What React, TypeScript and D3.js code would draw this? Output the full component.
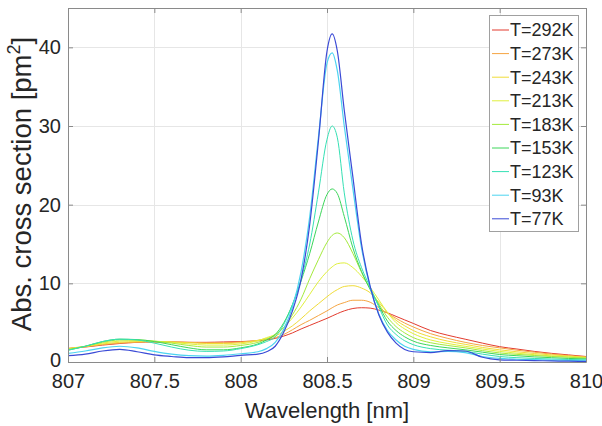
import { useEffect, useRef } from 'react';
import * as d3 from 'd3';

// wavelength grid [nm]
const wavelengths = [
  807.0, 807.1, 807.2, 807.3, 807.4, 807.5, 807.6, 807.7, 807.8, 807.9,
  808.0, 808.1, 808.15, 808.2, 808.25, 808.3, 808.35, 808.4, 808.45, 808.5,
  808.53, 808.56, 808.6, 808.65, 808.7, 808.75, 808.8, 808.85, 808.9, 808.95,
  809.0, 809.1, 809.2, 809.3, 809.4, 809.5, 809.6, 809.7, 809.8, 809.9, 810.0,
];

// absorption cross section [pm^2] per temperature
const t292 = [
  1.7, 1.9, 2.15, 2.35, 2.5, 2.55, 2.55, 2.5, 2.5, 2.55,
  2.6, 2.7, 2.8, 3.0, 3.3, 3.7, 4.2, 4.65, 5.1, 5.55,
  5.85, 6.15, 6.5, 6.8, 6.9, 6.85, 6.6, 6.25, 5.8, 5.35,
  4.9, 4.0, 3.4, 2.9, 2.4, 1.95, 1.65, 1.35, 1.1, 0.9, 0.7,
];
const t273 = [
  1.75, 1.95, 2.2, 2.4, 2.5, 2.55, 2.55, 2.5, 2.45, 2.45,
  2.55, 2.75, 2.9, 3.1, 3.5, 4.1, 4.75, 5.3, 5.9, 6.5,
  6.9, 7.25, 7.55, 7.85, 7.85, 7.6, 6.9, 6.2, 5.55, 4.95,
  4.45, 3.6, 3.0, 2.5, 2.1, 1.8, 1.5, 1.25, 1.0, 0.82, 0.65,
];
const t243 = [
  1.7, 1.95, 2.3, 2.5, 2.6, 2.6, 2.55, 2.45, 2.35, 2.35,
  2.45, 2.75, 3.0, 3.3, 3.9, 4.6, 5.5, 6.5, 7.4, 8.3,
  8.8, 9.2, 9.6, 9.7, 9.4, 8.8, 7.6, 6.3, 5.3, 4.6,
  4.0, 3.2, 2.65, 2.25, 1.85, 1.55, 1.3, 1.08, 0.9, 0.75, 0.6,
];
const t213 = [
  1.65, 2.0, 2.4, 2.65, 2.7, 2.65, 2.5, 2.3, 2.15, 2.15,
  2.3, 2.7, 3.1, 3.5, 4.4, 5.6, 7.0, 8.6, 10.2, 11.5,
  12.1, 12.5, 12.6, 12.0, 10.9, 9.5, 7.9, 6.3, 5.0, 4.2,
  3.6, 2.8, 2.35, 2.0, 1.65, 1.35, 1.12, 0.93, 0.78, 0.65, 0.55,
];
const t183 = [
  1.6, 2.0, 2.5, 2.8, 2.8, 2.65, 2.4, 2.1, 1.9, 1.9,
  2.1, 2.5, 2.9, 3.45, 4.4, 6.0, 8.0, 10.6, 13.0, 15.2,
  16.1, 16.4, 15.8, 13.8, 11.4, 9.3, 7.4, 5.7, 4.5, 3.7,
  3.1, 2.45, 2.1, 1.8, 1.45, 1.15, 0.97, 0.83, 0.7, 0.6, 0.5,
];
const t153 = [
  1.5, 2.0, 2.6, 2.9, 2.85, 2.6, 2.2, 1.8, 1.55, 1.55,
  1.8, 2.3, 2.8, 3.5, 5.0, 7.3, 10.3, 13.8, 17.8, 21.3,
  22.0, 21.4, 18.5, 14.5, 11.5, 9.2, 7.2, 5.2, 4.0, 3.2,
  2.65, 2.1, 1.8, 1.55, 1.25, 0.95, 0.8, 0.65, 0.55, 0.45, 0.4,
];
const t123 = [
  1.5, 2.0, 2.6, 2.9, 2.8, 2.4, 1.9, 1.5, 1.35, 1.4,
  1.7, 2.2, 2.6, 3.2, 4.8, 7.3, 10.5, 15.0, 21.5, 28.3,
  30.0, 28.5, 21.5, 15.5, 12.0, 9.5, 7.0, 4.7, 3.5, 2.7,
  2.2, 1.7, 1.5, 1.35, 1.0, 0.7, 0.55, 0.45, 0.38, 0.32, 0.28,
];
const t93 = [
  1.1, 1.4, 1.8, 2.0, 1.8, 1.35, 1.0, 0.8, 0.75, 0.85,
  1.05, 1.3, 1.7, 2.5, 4.2, 7.0, 11.5, 18.5, 28.5, 38.0,
  39.3, 37.0, 30.0, 22.0, 14.5, 9.5, 6.1, 4.0, 2.8, 2.0,
  1.6, 1.3, 1.35, 1.2, 0.7, 0.45, 0.35, 0.3, 0.25, 0.2, 0.15,
];
const t77 = [
  0.8, 1.0, 1.4, 1.6, 1.3, 0.9, 0.7, 0.55, 0.55, 0.65,
  0.85, 1.0, 1.3, 2.0, 3.8, 6.5, 10.5, 17.5, 28.0, 39.5,
  41.7, 39.5, 32.0, 23.5, 15.0, 9.6, 6.0, 3.8, 2.4, 1.6,
  1.3, 1.2, 1.45, 1.4, 0.6, 0.28, 0.22, 0.18, 0.14, 0.1, 0.08,
];

const labels = ['T=292K', 'T=273K', 'T=243K', 'T=213K', 'T=183K', 'T=153K', 'T=123K', 'T=93K', 'T=77K'];
const colors = ['#e33b2e', '#f5a442', '#f0dc38', '#e0f03c', '#a4ea3c', '#3cd65a', '#36e0b4', '#4cd4f0', '#3a4ad6'];
const seriesValues = [t292, t273, t243, t213, t183, t153, t123, t93, t77];

const xTicks = [807, 807.5, 808, 808.5, 809, 809.5, 810];
const yTicks = [0, 10, 20, 30, 40];

const App = () => {
  const ref = useRef<SVGSVGElement>(null);

  useEffect(() => {
    document.body.style.margin = '0';
    const W = 602, H = 426;
    const margin = { top: 8, right: 16, bottom: 64, left: 68 };
    const width = W - margin.left - margin.right;
    const height = H - margin.top - margin.bottom;
    const font = 'Liberation Sans, Arial, sans-serif';
    const axisColor = '#8a8a8a';
    const textColor = '#262626';

    const svg = d3.select(ref.current);
    svg.selectAll('*').remove();

    const x = d3.scaleLinear().domain([807, 810]).range([margin.left, margin.left + width]);
    const y = d3.scaleLinear().domain([0, 45]).range([margin.top + height, margin.top]);

    // grid
    const grid = svg.append('g').attr('stroke', '#e6e6e6').attr('stroke-width', 1);
    grid.selectAll('.gx').data(xTicks.slice(1, -1)).join('line')
      .attr('x1', (d) => Math.round(x(d)) + 0.5).attr('x2', (d) => Math.round(x(d)) + 0.5)
      .attr('y1', margin.top).attr('y2', margin.top + height);
    grid.selectAll('.gy').data(yTicks.slice(1)).join('line')
      .attr('y1', (d) => Math.round(y(d)) + 0.5).attr('y2', (d) => Math.round(y(d)) + 0.5)
      .attr('x1', margin.left).attr('x2', margin.left + width);

    // clip
    svg.append('clipPath').attr('id', 'plot-clip')
      .append('rect').attr('x', margin.left).attr('y', margin.top).attr('width', width).attr('height', height);

    const line = d3.line<number>()
      .x((_, i) => x(wavelengths[i]))
      .y((d) => y(d))
      .curve(d3.curveMonotoneX);

    svg.append('g').attr('clip-path', 'url(#plot-clip)')
      .selectAll('path').data(seriesValues).join('path')
      .attr('d', (d) => line(d))
      .attr('fill', 'none')
      .attr('stroke', (_, i) => colors[i])
      .attr('stroke-width', (_, i) => (i >= 7 ? 1.2 : 1));

    // axes box
    const bottomY = margin.top + height, rightX = margin.left + width;
    svg.append('g').attr('transform', `translate(0, ${bottomY})`)
      .call(d3.axisBottom(x).tickValues(xTicks).tickSize(-5).tickSizeOuter(0).tickPadding(12).tickFormat((d) => String(d)))
      .call((g) => g.select('.domain').attr('stroke', axisColor))
      .call((g) => g.selectAll('line').attr('stroke', axisColor))
      .call((g) => g.selectAll('text').attr('fill', textColor).style('font-family', font).style('font-size', '20px'));
    svg.append('g').attr('transform', `translate(0, ${margin.top})`)
      .call(d3.axisTop(x).tickValues(xTicks).tickSize(-5).tickSizeOuter(0).tickFormat(() => ''))
      .call((g) => g.select('.domain').attr('stroke', axisColor))
      .call((g) => g.selectAll('line').attr('stroke', axisColor));
    svg.append('g').attr('transform', `translate(${margin.left}, 0)`)
      .call(d3.axisLeft(y).tickValues(yTicks).tickSize(-5).tickSizeOuter(0).tickPadding(7))
      .call((g) => g.select('.domain').attr('stroke', axisColor))
      .call((g) => g.selectAll('line').attr('stroke', axisColor))
      .call((g) => g.selectAll('text').attr('fill', textColor).style('font-family', font).style('font-size', '20px')
        .attr('dy', (d) => (d === 0 ? '0.2em' : '0.32em')));
    svg.append('g').attr('transform', `translate(${rightX}, 0)`)
      .call(d3.axisRight(y).tickValues(yTicks).tickSize(-5).tickSizeOuter(0).tickFormat(() => ''))
      .call((g) => g.select('.domain').attr('stroke', axisColor))
      .call((g) => g.selectAll('line').attr('stroke', axisColor));

    // axis labels
    svg.append('text')
      .attr('x', margin.left + width / 2).attr('y', 418)
      .attr('text-anchor', 'middle').attr('fill', textColor)
      .style('font-family', font).style('font-size', '22px')
      .text('Wavelength [nm]');
    const yl = svg.append('text')
      .attr('transform', `translate(31, 184) rotate(-90)`)
      .attr('text-anchor', 'middle').attr('fill', textColor)
      .style('font-family', font).style('font-size', '27.5px');
    yl.append('tspan').text('Abs. cross section [pm');
    yl.append('tspan').attr('dy', -11).style('font-size', '18px').text('2');
    yl.append('tspan').attr('dy', 11).text(']');

    // legend
    const lg = svg.append('g');
    lg.append('rect').attr('x', 489.5).attr('y', 15.5).attr('width', 89).attr('height', 216)
      .attr('fill', '#fff').attr('stroke', '#a0a0a0');
    const items = lg.selectAll('.item').data(labels).join('g')
      .attr('transform', (_, i) => `translate(0, ${30 + i * 23.6})`);
    items.append('line').attr('x1', 492).attr('x2', 509).attr('y1', 0).attr('y2', 0)
      .attr('stroke', (_, i) => colors[i]).attr('stroke-width', 1);
    items.append('text').attr('x', 510).attr('y', 0).attr('dy', '0.35em')
      .attr('fill', textColor).style('font-family', font).style('font-size', '18px')
      .text((d) => d);
  }, []);

  return <svg ref={ref} width={602} height={426} style={{ display: 'block', background: '#fff' }}></svg>;
};

export default App;
